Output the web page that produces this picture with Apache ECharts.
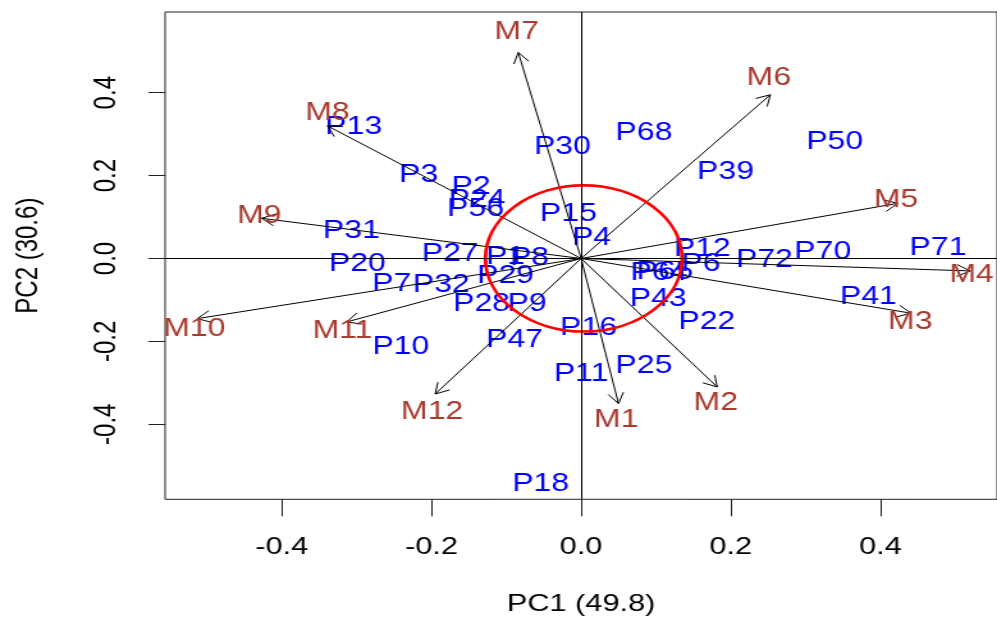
<!DOCTYPE html>
<html>
<head>
<meta charset="utf-8">
<script src="https://cdn.jsdelivr.net/npm/echarts@6/dist/echarts.min.js"></script>
<style>
  html, body { margin: 0; padding: 0; background: #fff; overflow: hidden; }
  /* the source biplot was stretched sideways, so draw it narrow and scale it out */
  #chart { width: 779px; height: 622px; transform: scaleX(1.2799); transform-origin: 0 0; }
</style>
</head>
<body>
<div id="chart"></div>
<script>
// sample scores (blue labels)
const pNames = ['P13', 'P3', 'P2', 'P24', 'P56', 'P30', 'P68', 'P39', 'P50', 'P15', 'P4', 'P31',
  'P20', 'P27', 'P1', 'P8', 'P29', 'P7', 'P32', 'P28', 'P9', 'P47', 'P10', 'P16', 'P11', 'P25',
  'P18', 'P12', 'P6', 'P64', 'P65', 'P43', 'P22', 'P72', 'P70', 'P71', 'P41']
const pX = [-0.304, -0.217, -0.147, -0.139, -0.141, -0.025, 0.084, 0.193, 0.339, -0.017, 0.014, -0.307,
  -0.299, -0.175, -0.101, -0.069, -0.101, -0.253, -0.187, -0.133, -0.072, -0.089, -0.241, 0.010, 0.000, 0.084,
  -0.054, 0.162, 0.160, 0.104, 0.112, 0.103, 0.168, 0.245, 0.323, 0.477, 0.384]
const pY = [0.318, 0.202, 0.173, 0.141, 0.120, 0.269, 0.303, 0.209, 0.281, 0.108, 0.050, 0.066,
  -0.013, 0.011, 0.004, 0.001, -0.042, -0.062, -0.064, -0.110, -0.110, -0.197, -0.214, -0.168, -0.279, -0.260,
  -0.545, 0.023, -0.013, -0.035, -0.033, -0.098, -0.153, -0.004, 0.016, 0.025, -0.093]

// variable loadings (arrows) and where their labels sit
const mNames = ['M1', 'M2', 'M3', 'M4', 'M5', 'M6', 'M7', 'M8', 'M9', 'M10', 'M11', 'M12']
const mTipX = [0.050, 0.182, 0.441, 0.520, 0.423, 0.253, -0.084, -0.339, -0.427, -0.513, -0.313, -0.195]
const mTipY = [-0.350, -0.310, -0.132, -0.030, 0.133, 0.395, 0.497, 0.320, 0.097, -0.145, -0.153, -0.327]
const mLabelX = [0.047, 0.180, 0.440, 0.522, 0.421, 0.251, -0.086, -0.339, -0.430, -0.517, -0.319, -0.199]
const mLabelY = [-0.390, -0.349, -0.153, -0.040, 0.141, 0.436, 0.547, 0.351, 0.103, -0.170, -0.175, -0.371]

const axisTicks = [-0.4, -0.2, 0, 0.2, 0.4]
const ellipseCenter = [0.0035, 0]
const ellipseRadius = [0.1314, 0.1763]

const FONT = "'Liberation Sans', Arial, sans-serif"
const BLUE = '#0000FF'
const BROWN = '#A93A2E'

const chart = echarts.init(document.getElementById('chart'))

function pointLabel(params, api) {
  const pt = api.coord([api.value(0), api.value(1)])
  return {
    type: 'text', x: pt[0], y: pt[1],
    style: { text: pNames[params.dataIndex], fill: BLUE, font: `25px ${FONT}`, align: 'center', verticalAlign: 'middle' }
  }
}

function arrowItem(params, api) {
  const o = api.coord([0, 0])
  const t = api.coord([api.value(0), api.value(1)])
  const lab = api.coord([api.value(2), api.value(3)])
  const ang = Math.atan2(t[1] - o[1], t[0] - o[0])
  const len = 12, spread = Math.PI / 6
  const b1 = [t[0] - len * Math.cos(ang - spread), t[1] - len * Math.sin(ang - spread)]
  const b2 = [t[0] - len * Math.cos(ang + spread), t[1] - len * Math.sin(ang + spread)]
  return {
    type: 'group',
    children: [
      { type: 'line', shape: { x1: o[0], y1: o[1], x2: t[0], y2: t[1] }, style: { stroke: '#000', lineWidth: 1 } },
      { type: 'polyline', shape: { points: [b1, t, b2] }, style: { stroke: '#000', lineWidth: 1, fill: null } },
      {
        type: 'text', x: lab[0], y: lab[1],
        style: { text: mNames[params.dataIndex], fill: BROWN, font: `25px ${FONT}`, align: 'center', verticalAlign: 'middle' }
      }
    ]
  }
}

function ellipseItem(params, api) {
  const c = api.coord([api.value(0), api.value(1)])
  const s = api.size([api.value(2), api.value(3)])
  return {
    type: 'circle', x: c[0], y: c[1], scaleX: s[0] / s[1],
    shape: { cx: 0, cy: 0, r: s[1] },
    style: { stroke: '#FF0000', lineWidth: 2.6, fill: null }
  }
}

const tickFmt = v => (Math.abs(v) < 1e-9 ? 0 : v).toFixed(1)

chart.setOption({
  animation: false,
  backgroundColor: '#fff',
  grid: { left: 129, right: -2.6, top: 12, bottom: 122.7, show: true, borderColor: '#222', borderWidth: 1 },
  xAxis: {
    type: 'value', min: -0.556, max: 0.556,
    name: 'PC1 (49.8)', nameLocation: 'middle', nameGap: 93,
    nameTextStyle: { fontFamily: FONT, fontSize: 24, color: '#000' },
    axisLine: { show: false, onZero: false },
    axisTick: { show: true, customValues: axisTicks, length: 17, lineStyle: { color: '#222', width: 1 } },
    axisLabel: { customValues: axisTicks, formatter: tickFmt, fontFamily: FONT, fontSize: 24, color: '#000', margin: 36 },
    splitLine: { show: false }
  },
  yAxis: {
    type: 'value', min: -0.581, max: 0.5947,
    name: 'PC2 (30.6)', nameLocation: 'middle', nameGap: 95, nameRotate: 90,
    nameTextStyle: { fontFamily: FONT, fontSize: 24, color: '#000' },
    axisLine: { show: false, onZero: false },
    axisTick: { show: true, customValues: axisTicks, length: 13, lineStyle: { color: '#222', width: 1 } },
    axisLabel: { customValues: axisTicks, formatter: tickFmt, rotate: 90, fontFamily: FONT, fontSize: 24, color: '#000', margin: 34 },
    splitLine: { show: false }
  },
  series: [
    {
      type: 'custom', name: 'samples', z: 2,
      data: pX.map((x, i) => [x, pY[i]]),
      renderItem: pointLabel,
      markLine: {
        silent: true, symbol: 'none', label: { show: false },
        lineStyle: { color: '#000', width: 1, type: 'solid' },
        data: [{ xAxis: 0 }, { yAxis: 0 }]
      }
    },
    {
      type: 'custom', name: 'loadings', z: 3,
      data: mTipX.map((x, i) => [x, mTipY[i], mLabelX[i], mLabelY[i]]),
      renderItem: arrowItem
    },
    {
      type: 'custom', name: 'ellipse', z: 4,
      data: [[ellipseCenter[0], ellipseCenter[1], ellipseRadius[0], ellipseRadius[1]]],
      renderItem: ellipseItem
    }
  ]
})
</script>
</body>
</html>
